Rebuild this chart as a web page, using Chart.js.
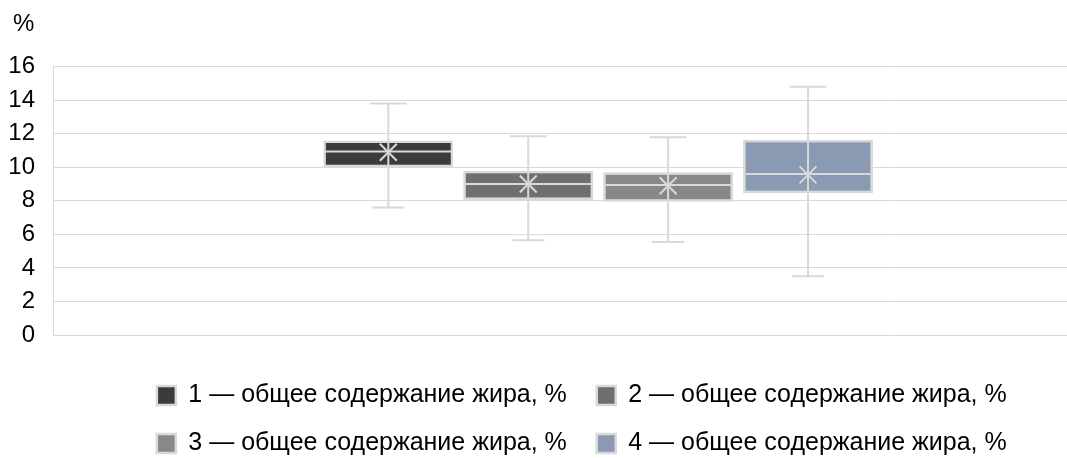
<!DOCTYPE html>
<html>
<head>
<meta charset="utf-8">
<script src="https://cdn.jsdelivr.net/npm/chart.js@4/dist/chart.umd.min.js"></script>
<style>
  html, body { margin: 0; padding: 0; background: #fff; overflow: hidden; }
  #wrap { width: 1067px; height: 458px; overflow: hidden; }
</style>
</head>
<body>
<div id="wrap"><canvas id="fat-chart" width="1200" height="466"></canvas></div>
<script>
  const seriesNames = [
    "1 — общее содержание жира, %",
    "2 — общее содержание жира, %",
    "3 — общее содержание жира, %",
    "4 — общее содержание жира, %",
  ];
  const seriesColors = ["#3b3b3b", "#6f6f6f", "#888888", "#8a9ab3"];
  const positions = [1, 2, 3, 4];
  const minValues = [7.6, 5.65, 5.55, 3.5];
  const q1Values = [10.0, 8.05, 7.95, 8.45];
  const medianValues = [10.95, 9.0, 8.95, 9.6];
  const q3Values = [11.6, 9.8, 9.7, 11.65];
  const maxValues = [13.8, 11.85, 11.8, 14.8];
  const meanValues = [10.9, 9.0, 8.9, 9.55];
  const yTicks = [0, 2, 4, 6, 8, 10, 12, 14, 16];
  const unitLabel = "%";

  const lineGray = "#d9d9d9";
  const fontFamily = "'Liberation Sans', Arial, sans-serif";

  // whiskers, median lines and mean markers on top of the boxes
  const boxPlotExtras = {
    id: "boxPlotExtras",
    afterDatasetsDraw(chart) {
      const { ctx } = chart;
      const y = chart.scales.y;
      ctx.save();
      ctx.strokeStyle = lineGray;
      ctx.lineWidth = 2;
      chart.data.datasets.forEach((ds, i) => {
        const bar = chart.getDatasetMeta(i).data[0];
        if (!bar) return;
        const x = bar.x;
        const half = bar.width / 2 - 2;
        const yMin = y.getPixelForValue(minValues[i]);
        const yMax = y.getPixelForValue(maxValues[i]);
        const yMed = y.getPixelForValue(medianValues[i]);
        const yMean = y.getPixelForValue(meanValues[i]);
        ctx.beginPath();
        ctx.moveTo(x, yMax);
        ctx.lineTo(x, yMin);
        ctx.moveTo(x - 18.5, yMax);
        ctx.lineTo(x + 18.5, yMax);
        ctx.moveTo(x - 16, yMin);
        ctx.lineTo(x + 16, yMin);
        ctx.moveTo(x - half, yMed);
        ctx.lineTo(x + half, yMed);
        ctx.stroke();
        ctx.beginPath();
        ctx.moveTo(x - 8.5, yMean - 8.5);
        ctx.lineTo(x + 8.5, yMean + 8.5);
        ctx.moveTo(x + 8.5, yMean - 8.5);
        ctx.lineTo(x - 8.5, yMean + 8.5);
        ctx.stroke();
      });
      ctx.restore();
    },
  };

  // unit label above the value axis
  const unitTitle = {
    id: "unitTitle",
    afterDraw(chart) {
      const { ctx, chartArea } = chart;
      ctx.save();
      ctx.fillStyle = "#000";
      ctx.font = "24px " + fontFamily;
      ctx.textAlign = "left";
      ctx.textBaseline = "middle";
      ctx.fillText(unitLabel, chart.scales.y.left + 13, chartArea.top - 42);
      ctx.restore();
    },
  };

  const datasets = seriesNames.map((name, i) => ({
    label: name,
    data: [{ x: positions[i], y: [q1Values[i], q3Values[i]] }],
    backgroundColor: seriesColors[i],
    borderColor: lineGray,
    borderWidth: 2.5,
    borderSkipped: false,
    grouped: false,
    categoryPercentage: 1,
    barPercentage: 0.929,
  }));

  const config = {
    type: "bar",
    data: { datasets },
    options: {
      responsive: false,
      animation: false,
      layout: { padding: { left: 0, right: 29.5, top: 66.7 } },
      plugins: {
        legend: {
          position: "bottom",
          labels: {
            color: "#000",
            font: { family: fontFamily, size: 25 },
            boxWidth: 19,
            boxHeight: 19,
            padding: 23,
            generateLabels(chart) {
              const items = Chart.defaults.plugins.legend.labels.generateLabels(chart);
              items.forEach((it) => { it.text = it.text + " "; });
              return items;
            },
          },
        },
        tooltip: { enabled: false },
      },
      scales: {
        x: {
          type: "linear",
          min: -1.397,
          max: 6.591,
          offset: false,
          bounds: "data",
          afterBuildTicks(scale) { scale.ticks = positions.map((v) => ({ value: v })); },
          ticks: { display: false },
          grid: { display: false },
          border: { display: false },
          afterFit(scale) { scale.height = 25; },
        },
        y: {
          min: 0,
          max: 16,
          afterBuildTicks(scale) { scale.ticks = yTicks.map((v) => ({ value: v })); },
          ticks: {
            color: "#000",
            padding: 18,
            font: { family: fontFamily, size: 24 },
          },
          grid: { color: lineGray, drawTicks: false },
          border: { color: lineGray },
          afterFit(scale) { scale.width = 53; },
        },
      },
    },
    plugins: [boxPlotExtras, unitTitle],
  };

  const ctx = document.getElementById("fat-chart").getContext("2d");
  const fatChart = new Chart(ctx, config);
</script>
</body>
</html>
